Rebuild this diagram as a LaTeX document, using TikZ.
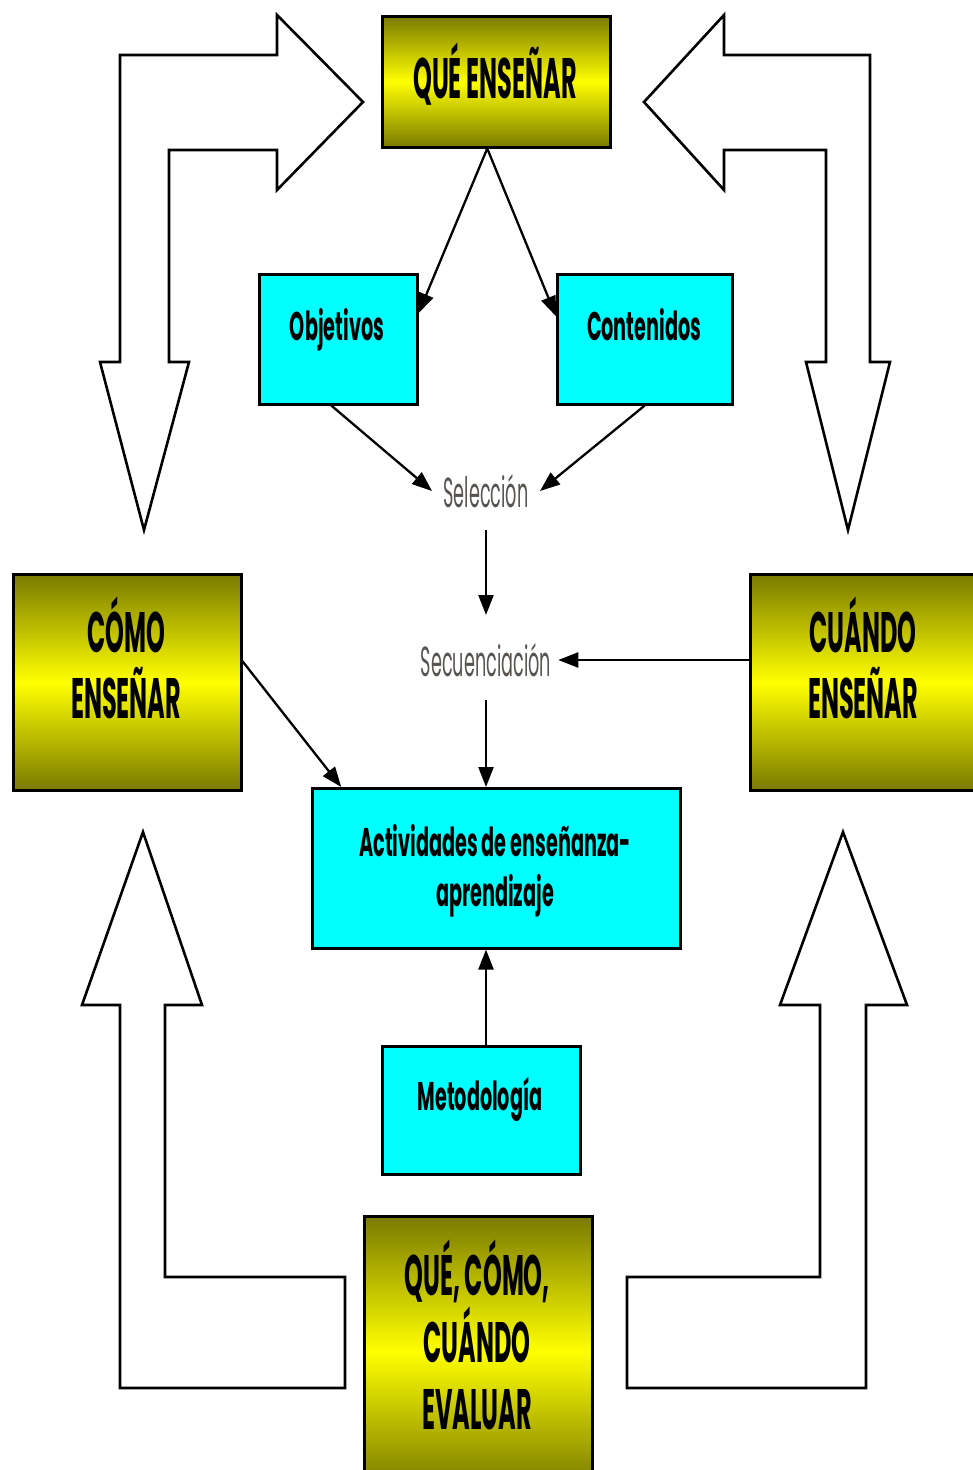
\documentclass[tikz,border=0pt]{standalone}
\usepackage{fontspec}
\setmainfont{Poppins}
\newfontfamily\bigf{Poppins}[FakeStretch=0.42]
\newfontfamily\smf{Poppins}[FakeStretch=0.48]
\newfontfamily\lf{Poppins}[FakeStretch=0.42]
\usetikzlibrary{arrows.meta}
\definecolor{boxcyan}{RGB}{0,255,255}
\definecolor{gold}{RGB}{255,255,0}
\definecolor{darkolive}{RGB}{122,122,0}
\definecolor{lblgray}{RGB}{88,84,80}
\begin{document}
\begin{tikzpicture}[x=1pt,y=-1pt,
  gbox/.style={rectangle, draw=black, line width=2.5pt, top color=darkolive, bottom color=darkolive, middle color=gold, anchor=north west, inner sep=0pt},
  cbox/.style={rectangle, draw=black, line width=2.5pt, fill=boxcyan, anchor=north west, inner sep=0pt},
  bigtxt/.style={font=\bigf\bfseries\fontsize{57}{66}\selectfont, align=center, inner sep=0pt, anchor=base},
  smtxt/.style={font=\smf\bfseries\fontsize{40}{50}\selectfont, align=center, inner sep=0pt, anchor=base},
  ltxt/.style={font=\lf\fontsize{42}{48}\selectfont, text=lblgray, inner sep=0pt},
  conn/.style={draw=black, line width=2.3pt, -{Triangle[length=20pt,width=15pt]}},
  blockarrow/.style={draw=black, line width=2.6pt, fill=white, line join=miter}]
\useasboundingbox (0,0) rectangle (973,1470);
\clip (0,0) rectangle (973,1470);
\fill[white] (0,0) rectangle (973,1470);

% hollow block arrows
\draw[blockarrow] (120,362) -- (120,55) -- (277,55) -- (277,15) -- (363,102) -- (277,190) -- (277,150) -- (169,150) -- (169,362) -- (189,362) -- (144,530) -- (100,362) -- cycle;
\draw[blockarrow] (870,362) -- (870,55) -- (724,55) -- (724,15) -- (644,102) -- (724,190) -- (724,150) -- (826,150) -- (826,362) -- (806,362) -- (848,530) -- (890,362) -- cycle;
\draw[blockarrow] (120,1005) -- (82,1005) -- (143,832) -- (202,1005) -- (165,1005) -- (165,1277) -- (345,1277) -- (345,1388) -- (120,1388) -- cycle;
\draw[blockarrow] (866,1005) -- (907,1005) -- (843,832) -- (780,1005) -- (820,1005) -- (820,1277) -- (627,1277) -- (627,1388) -- (866,1388) -- cycle;

% boxes
\node[gbox, minimum width=228pt, minimum height=131pt] (que) at (381,15) {};
\node[bigtxt] (queT) at (495,98) {QUÉ ENSEÑAR};
\node[cbox, minimum width=158pt, minimum height=130pt] (obj) at (258,273) {};
\node[smtxt] (objT) at (337,340) {Objetivos};
\node[cbox, minimum width=175pt, minimum height=130pt] (cont) at (556,273) {};
\node[smtxt] (contT) at (644,340) {Contenidos};
\node[ltxt] (sel) at (486,491) {Selección};
\node[ltxt] (sec) at (486,660) {Secuenciación};
\node[gbox, minimum width=228pt, minimum height=216pt] (como) at (12,573) {};
\node[bigtxt] (comoT) at (126,718) {CÓMO\\ENSEÑAR};
\node[gbox, minimum width=228pt, minimum height=216pt] (cuando) at (749,573) {};
\node[bigtxt] (cuandoT) at (863,718) {CUÁNDO\\ENSEÑAR};
\node[cbox, minimum width=368pt, minimum height=160pt] (act) at (311,787) {};
\node[smtxt] (actT) at (495,906) {Actividades de enseñanza-\\aprendizaje};
\node[cbox, minimum width=198pt, minimum height=128pt] (met) at (381,1045) {};
\node[smtxt] (metT) at (480,1110) {Metodología};
\node[gbox, minimum width=228pt, minimum height=270pt] (eval) at (363,1215) {};
\node[bigtxt, font=\bigf\bfseries\fontsize{57}{67}\selectfont] (evalT) at (477,1429) {QUÉ, CÓMO,\\CUÁNDO\\EVALUAR};

% connectors
\draw[conn] ([xshift=-9pt]que.south) -- ([yshift=26pt]obj.east);
\draw[conn] ([xshift=-9pt]que.south) -- ([yshift=23pt]cont.west);
\draw[conn] ([xshift=-7pt]obj.south) -- ([xshift=-54pt]sel.center);
\draw[conn] (cont.south) -- ([xshift=54pt]sel.center);
\draw[conn] ([yshift=-39pt]sel.center) -- ([yshift=45pt]sec.center);
\draw[conn] (cuando.west |- sec.east) -- ([xshift=7pt]sec.east);
\draw[conn] ([yshift=-40pt]sec.center) -- (sec.center |- act.north);
\draw[conn] ([yshift=21pt]como.east) -- ([xshift=-155pt]act.north);
\draw[conn] (sec.center |- met.north) -- (sec.center |- act.south);
\end{tikzpicture}
\end{document}
